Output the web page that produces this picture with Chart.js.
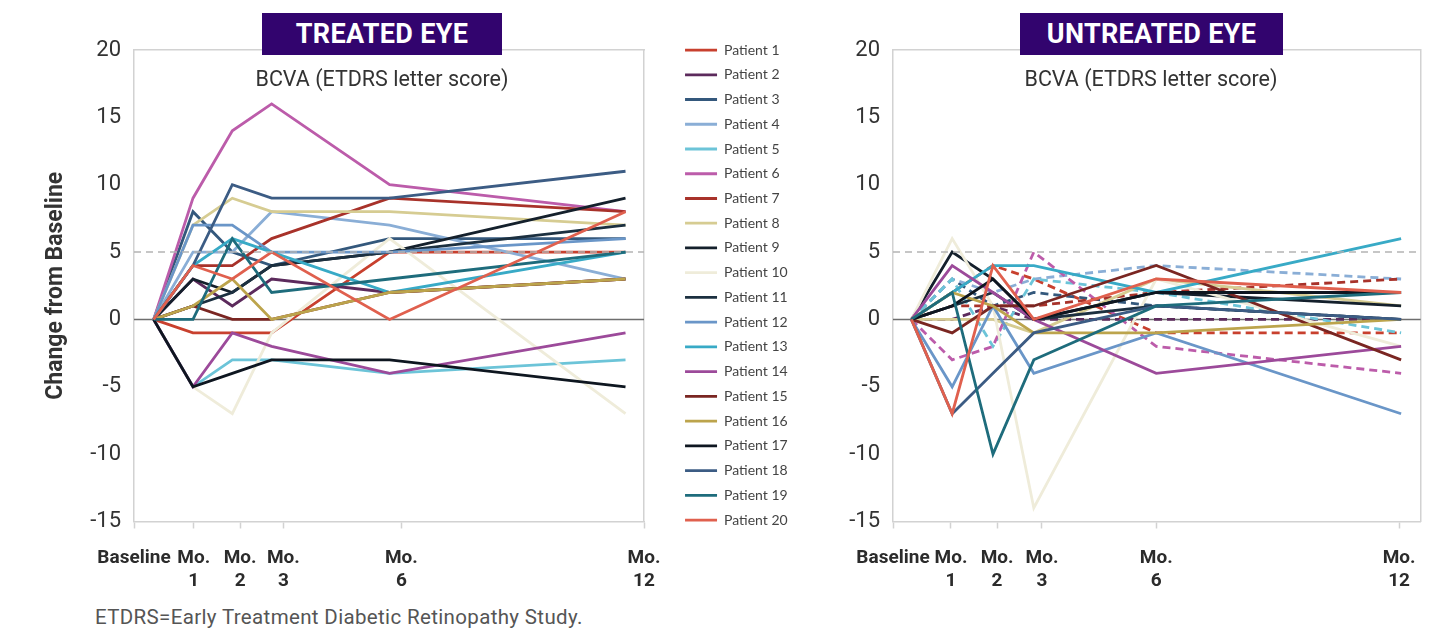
<!DOCTYPE html>
<html>
<head>
<meta charset="utf-8">
<script src="https://cdn.jsdelivr.net/npm/chart.js@4.4.1/dist/chart.umd.min.js"></script>
<style>
  body { margin: 0; background: #fff; width: 1455px; height: 629px; overflow: hidden; position: relative; font-family: Roboto, sans-serif; }
  .wrap { position: absolute; top: 0; height: 600px; }
  .head { position: absolute; top: 13px; height: 42px; background: #32046e; color: #fff; font: bold 27px Roboto, sans-serif; text-align: center; line-height: 43px; letter-spacing: 0.3px; z-index: 2; }
  .sub { position: absolute; top: 65px; width: 320px; text-align: center; font: 21.5px Roboto, sans-serif; color: #333; line-height: 28px; z-index: 2; }
  .note { position: absolute; left: 95px; top: 603px; font: 20.5px Roboto, sans-serif; color: #555; line-height: 28px; letter-spacing: 0.35px; }
</style>
</head>
<body>

<div class="wrap" style="left:0; width:820px;"><canvas id="treatedChart"></canvas></div>
<div class="wrap" style="left:760px; width:680px;"><canvas id="untreatedChart"></canvas></div>

<div class="head" style="left:262px; width:240px;">TREATED EYE</div>
<div class="head" style="left:1020px; width:263px;">UNTREATED EYE</div>
<div class="sub" style="left:222px;">BCVA (ETDRS letter score)</div>
<div class="sub" style="left:991px;">BCVA (ETDRS letter score)</div>
<div class="note">ETDRS=Early Treatment Diabetic Retinopathy Study.</div>

<script>
// visit times in months (Baseline = 0)
var months = [0, 1, 2, 3, 6, 12];

var patients = ['Patient 1', 'Patient 2', 'Patient 3', 'Patient 4', 'Patient 5',
  'Patient 6', 'Patient 7', 'Patient 8', 'Patient 9', 'Patient 10',
  'Patient 11', 'Patient 12', 'Patient 13', 'Patient 14', 'Patient 15',
  'Patient 16', 'Patient 17', 'Patient 18', 'Patient 19', 'Patient 20'];

var colors = ['#c8402e', '#5c2a5c', '#34587c', '#8aaed6', '#6cc4d8',
  '#bc5caa', '#a8322a', '#d6cc92', '#14202c', '#efecda',
  '#1c3040', '#6a96c8', '#38aac6', '#9c4a9a', '#7a2622',
  '#bca44c', '#0e1620', '#3c5c84', '#1e6c7c', '#e0604e'];

// change from baseline, one row per patient
var treated = [
  [0, -1, -1, -1, 5, 5],
  [0, 3, 1, 3, 2, 3],
  [0, 8, 5, 4, 6, 6],
  [0, 5, 5, 8, 7, 3],
  [0, -5, -3, -3, -4, -3],
  [0, 9, 14, 16, 10, 8],
  [0, 4, 4, 6, 9, 8],
  [0, 7, 9, 8, 8, 7],
  [0, 3, 2, 4, 5, 9],
  [0, -5, -7, -1, 6, -7],
  [0, 1, 2, 4, 5, 7],
  [0, 7, 7, 5, 5, 6],
  [0, 4, 6, 5, 2, 5],
  [0, -5, -1, -2, -4, -1],
  [0, 1, 0, 0, 2, 3],
  [0, 1, 3, 0, 2, 3],
  [0, -5, -4, -3, -3, -5],
  [0, 4, 10, 9, 9, 11],
  [0, 0, 6, 2, 3, 5],
  [0, 4, 3, 5, 0, 8]
];

var untreated = [
  [0, 2, 4, 3, -1, -1],
  [0, 0, 1, 0, 0, 0],
  [0, 3, 1, 2, 1, 0],
  [0, 3, 2, 3, 4, 3],
  [0, 3, -2, 3, 2, -1],
  [0, -3, -2, 5, -2, -4],
  [0, 1, 1, 1, 2, 3],
  [0, 0, 0, -1, 3, 1],
  [0, 5, 3, 0, 2, 1],
  [0, 6, 1, -14, 3, -2],
  [0, 1, 2, 0, 1, 0],
  [0, -5, 1, -4, -1, -7],
  [0, 2, 4, 4, 2, 6],
  [0, 4, 2, 0, -4, -2],
  [0, -1, 1, 1, 4, -3],
  [0, 2, 1, -1, -1, 0],
  [0, 1, 3, 0, 2, 2],
  [0, -7, -4, -1, 1, 0],
  [0, 2, -10, -3, 1, 2],
  [0, -7, 4, 0, 3, 2]
];
// patients drawn dashed in the untreated eye panel
var untreatedDashed = [1, 2, 3, 4, 5, 6, 7];

var xTickLabels = [['Baseline'], ['Mo.', '1'], ['Mo.', '2'], ['Mo.', '3'], ['Mo.', '6'], ['Mo.', '12']];
var treatedXTicks = [-0.5, 1.02, 2.2, 3.3, 6.3, 12.47];
var untreatedXTicks = [-0.45, 0.97, 2.1, 3.2, 6.0, 11.95];
var yMin = -15, yMax = 20, yStep = 5;
var refValue = 5;

var lineGrey = '#d2d2d2';

Chart.defaults.font.family = 'Roboto, sans-serif';
Chart.defaults.color = '#333';

function buildSets(rows, dashed) {
  var sets = [];
  for (var i = 0; i < rows.length; i++) {
    var pts = [];
    for (var j = 0; j < months.length; j++) {
      pts.push({ x: months[j], y: rows[i][j] });
    }
    sets.push({
      label: patients[i],
      data: pts,
      borderColor: colors[i],
      backgroundColor: colors[i],
      borderWidth: 2.8,
      borderDash: dashed.indexOf(i + 1) >= 0 ? [8, 5] : [],
      pointRadius: 0,
      pointHoverRadius: 0,
      tension: 0,
      order: rows.length - i   // later patients on top
    });
  }
  return sets;
}

// zero line under the data, dashed 5-letter line over it
var refLines = {
  id: 'refLines',
  beforeDatasetsDraw: function(chart) {
    var ctx = chart.ctx, a = chart.chartArea, y = chart.scales.y.getPixelForValue(0);
    ctx.save();
    ctx.strokeStyle = '#6e6e6e';
    ctx.lineWidth = 1.5;
    ctx.beginPath(); ctx.moveTo(a.left, y); ctx.lineTo(a.right, y); ctx.stroke();
    ctx.restore();
  },
  afterDatasetsDraw: function(chart) {
    var ctx = chart.ctx, a = chart.chartArea, y = chart.scales.y.getPixelForValue(refValue);
    ctx.save();
    ctx.strokeStyle = '#b4b4b4';
    ctx.lineWidth = 1.6;
    ctx.setLineDash([7, 5]);
    ctx.beginPath(); ctx.moveTo(a.left, y); ctx.lineTo(a.right, y); ctx.stroke();
    ctx.restore();
  }
};

function makeChart(canvasId, rows, dashed, xTicks, opts) {
  return new Chart(document.getElementById(canvasId), {
    type: 'line',
    data: { datasets: buildSets(rows, dashed) },
    plugins: [refLines],
    options: {
      responsive: true,
      maintainAspectRatio: false,
      animation: false,
      layout: { padding: { top: 32.3, left: 0, bottom: 0, right: opts.padRight } },
      plugins: {
        tooltip: { enabled: false },
        legend: {
          display: opts.legend,
          position: 'right',
          align: 'start',
          labels: {
            usePointStyle: true,
            pointStyle: 'line',
            pointStyleWidth: 32,
            padding: 10.74,
            color: '#444',
            font: { family: 'Lato, sans-serif', size: 14 },
            sort: function(a, b) { return a.datasetIndex - b.datasetIndex; }
          }
        }
      },
      scales: {
        x: {
          type: 'linear',
          position: 'bottom',
          min: xTicks[0],
          max: opts.xMax,
          afterBuildTicks: function(scale) {
            scale.ticks = xTicks.map(function(v) { return { value: v }; });
          },
          afterFit: function(scale) { scale.height = 78.5; },
          ticks: {
            autoSkip: false,
            maxRotation: 0,
            padding: 17.6,
            color: '#2b2b2b',
            font: { size: 19, weight: 'bold', lineHeight: 1.25 },
            callback: function(value, index) { return xTickLabels[index]; }
          },
          grid: { drawOnChartArea: false, drawTicks: true, tickLength: 7, tickColor: lineGrey, tickWidth: 1.5 },
          border: { color: lineGrey, width: 1.5 }
        },
        xTop: {
          type: 'linear',
          position: 'top',
          min: 0, max: 1,
          afterFit: function(scale) { scale.height = 17.7; },
          ticks: { display: false },
          grid: { drawOnChartArea: false, drawTicks: false },
          border: { color: lineGrey, width: 1.5 }
        },
        y: {
          type: 'linear',
          position: 'left',
          min: yMin, max: yMax,
          afterFit: function(scale) { scale.width = opts.yWidth; },
          ticks: { stepSize: yStep, padding: 13, color: '#333', font: { size: 22 } },
          grid: { drawOnChartArea: false, drawTicks: false },
          border: { color: lineGrey, width: 1.5 },
          title: {
            display: opts.yTitle,
            text: 'Change from Baseline',
            color: '#333',
            font: { size: 23, weight: 'bold' },
            padding: { top: 42, bottom: 0 }
          }
        },
        yRight: {
          type: 'linear',
          position: 'right',
          min: yMin, max: yMax,
          afterFit: function(scale) { scale.width = opts.rightGap; },
          ticks: { display: false },
          grid: { drawOnChartArea: false, drawTicks: false },
          border: { color: lineGrey, width: 1.5 }
        }
      }
    }
  });
}

var treatedChart = makeChart('treatedChart', treated, [], treatedXTicks,
  { padRight: 0, legend: true, yTitle: true, yWidth: 134, rightGap: 30.3, xMax: 12.47 });

// shift the legend so the plot box ends where it does in the original
var diff = treatedChart.chartArea.right - 644;
if (Math.abs(diff) > 0.5) {
  treatedChart.options.layout.padding = { top: 32.3, left: 0, bottom: 0, right: diff };
  treatedChart.update('none');
}

var untreatedChart = makeChart('untreatedChart', untreated, untreatedDashed, untreatedXTicks,
  { padRight: 19.3, legend: false, yTitle: false, yWidth: 133, rightGap: 0, xMax: 12.48 });
</script>
</body>
</html>
